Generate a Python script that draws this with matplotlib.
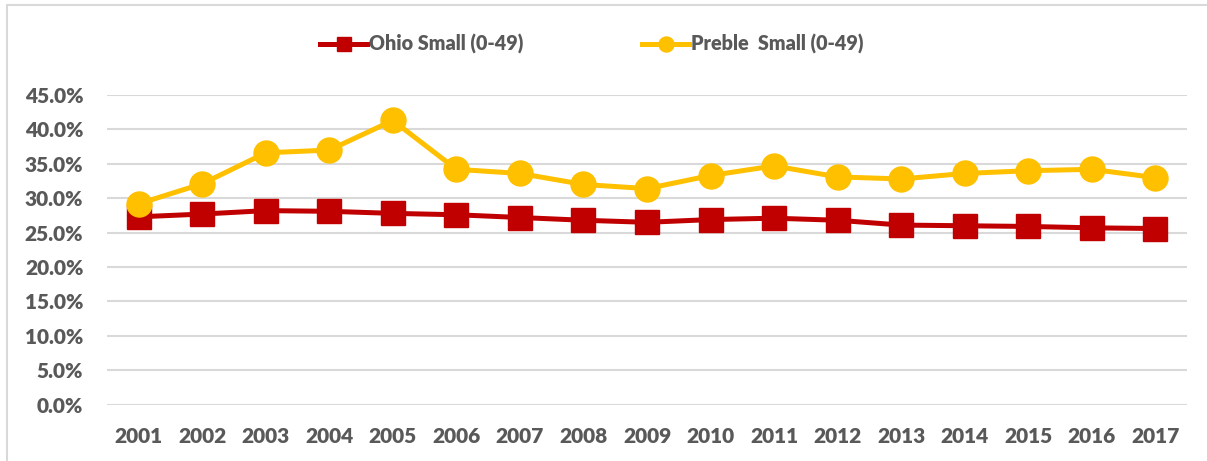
import matplotlib
matplotlib.use("Agg")
import matplotlib.pyplot as plt
from matplotlib.patches import Rectangle
from matplotlib.ticker import FuncFormatter, MultipleLocator

plt.rcParams['font.family'] = ['Lato', 'DejaVu Sans']

years = ["2001", "2002", "2003", "2004", "2005", "2006", "2007", "2008", "2009",
         "2010", "2011", "2012", "2013", "2014", "2015", "2016", "2017"]
ohio_small = [27.3, 27.7, 28.2, 28.1, 27.8, 27.6, 27.2, 26.8, 26.5,
              26.9, 27.1, 26.8, 26.1, 26.0, 25.9, 25.7, 25.6]
preble_small = [29.2, 32.1, 36.6, 37.0, 41.3, 34.2, 33.6, 32.0, 31.4,
                33.3, 34.7, 33.1, 32.8, 33.6, 34.0, 34.2, 33.0]
series_labels = ["Ohio Small (0-49)", "Preble  Small (0-49)"]

W, H = 1207, 461
fig = plt.figure(figsize=(W / 100, H / 100), dpi=100)
fig.patch.set_facecolor("white")

# outer chart frame
fig.add_artist(Rectangle((7 / W, -0.05), 1.1, 1 - 5.5 / H + 0.05, transform=fig.transFigure,
                         fill=False, edgecolor="#D9D9D9", linewidth=1.5))

ax = fig.add_axes([107 / W, 1 - 404.7 / H, (1187 - 107) / W, (404.7 - 95) / H])
x = list(range(len(years)))
l1, = ax.plot(x, ohio_small, color="#C00000", linewidth=3.6, marker="s", markersize=17.5,
              label=series_labels[0], zorder=3)
l2, = ax.plot(x, preble_small, color="#FFC000", linewidth=3.6, marker="o", markersize=18,
              label=series_labels[1], zorder=4)

ax.set_xlim(-0.5, len(years) - 0.5)
ax.set_ylim(0, 45)
ax.yaxis.set_major_locator(MultipleLocator(5))
ax.yaxis.set_major_formatter(FuncFormatter(lambda v, p: f"{v:.1f}%"))
ax.set_xticks(x)
ax.set_xticklabels(years)
ax.grid(axis="y", color="#D9D9D9", linewidth=1.5, zorder=0)
ax.set_axisbelow(True)
for s in ax.spines.values():
    s.set_visible(False)
ax.tick_params(axis="both", length=0, labelsize=15, labelcolor="#595959")
ax.tick_params(axis="y", pad=17)
ax.tick_params(axis="x", pad=16)
for lab in ax.get_xticklabels() + ax.get_yticklabels():
    lab.set_fontweight("heavy")

leg = fig.legend(handles=[l1, l2], loc="center", bbox_to_anchor=(592 / W, 1 - 44 / H),
                 ncol=2, frameon=False, markerscale=0.6, handlelength=2.4,
                 handletextpad=0.1, columnspacing=6.0,
                 prop={"size": 14.2, "weight": "heavy"})
for t in leg.get_texts():
    t.set_color("#595959")

fig.savefig("out.png", dpi=100, facecolor="white")
